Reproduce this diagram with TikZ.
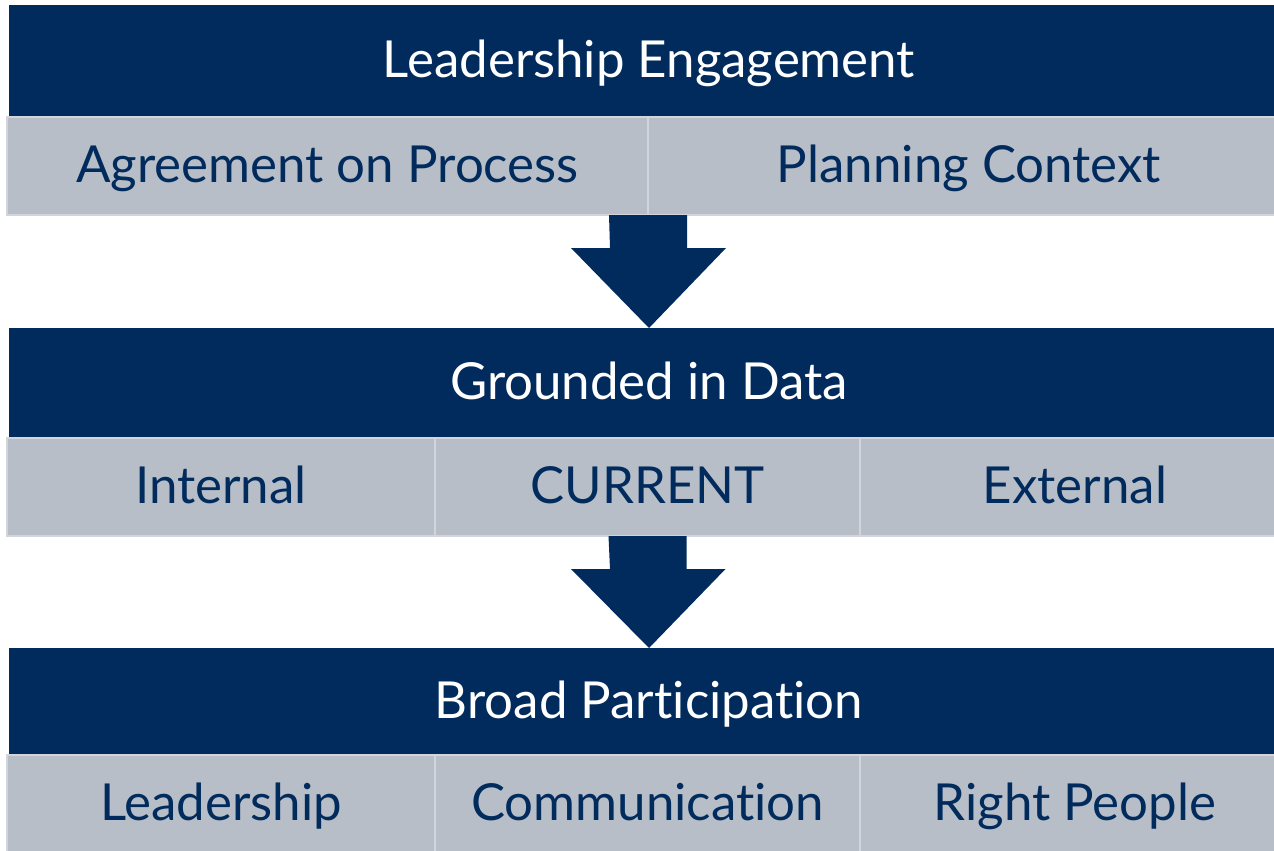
\documentclass[tikz,border=0pt]{standalone}
\usepackage{fontspec}
\setmainfont[Ligatures=NoCommon]{Lato}
\usetikzlibrary{calc}
\definecolor{navy}{RGB}{0,43,92}
\definecolor{slate}{RGB}{184,190,200}
\definecolor{slateline}{RGB}{210,214,220}
\begin{document}
\begin{tikzpicture}[
            x=1pt, y=-1pt,
            header/.style={fill=navy, text=white, anchor=north west, inner sep=0pt, outer sep=0pt,
                minimum width=1280pt, text height=39.5pt, text depth=6.5pt,
                font=\fontsize{51}{56}\selectfont},
            cell/.style={fill=slate, draw=slateline, line width=2.5pt, text=navy,
                anchor=north west, inner sep=0pt, outer sep=0pt, minimum height=98pt,
                text height=39.5pt, text depth=6.5pt, font=\fontsize{51}{56}\selectfont},
        ]
            \useasboundingbox (0,0) rectangle (1274,851);
            \clip (0,0) rectangle (1274,851);
            % first block
            \node [header, minimum height=112pt] (lead) at (9,5) {Leadership Engagement};
            \node [cell, minimum width=641pt] (agree) at (7,117) {Agreement on Process};
            \node [cell, minimum width=642pt] (plan) at (agree.north east) {Planning Context};
            % second block
            \node [header, minimum height=110pt] (ground) at (9,328) {Grounded in Data};
            \node [cell, minimum width=428pt] (internal) at (7,438) {Internal};
            \node [cell, minimum width=425pt] (current) at (internal.north east) {CURRENT};
            \node [cell, minimum width=430pt] (external) at (current.north east) {External};
            % third block
            \node [header, minimum height=107pt] (broad) at (9,648) {Broad Participation};
            \node [cell, minimum width=428pt] (leader) at (7,755) {Leadership};
            \node [cell, minimum width=425pt] (comm) at (leader.north east) {Communication};
            \node [cell, minimum width=430pt] (right) at (comm.north east) {Right People};
            % block arrows
            \fill [navy] ($(agree.south east)+(-39,0)$) -- ++(78,0) -- ++(0,33) -- ++(39,0)
                -- (ground.north) -- ++(-78,-80) -- ++(39,0) -- cycle;
            \fill [navy] ($(current.south)+(-39,0)$) -- ++(78,0) -- ++(0,33) -- ++(39,0)
                -- (broad.north) -- ++(-78,-79) -- ++(39,0) -- cycle;
        \end{tikzpicture}
\end{document}
